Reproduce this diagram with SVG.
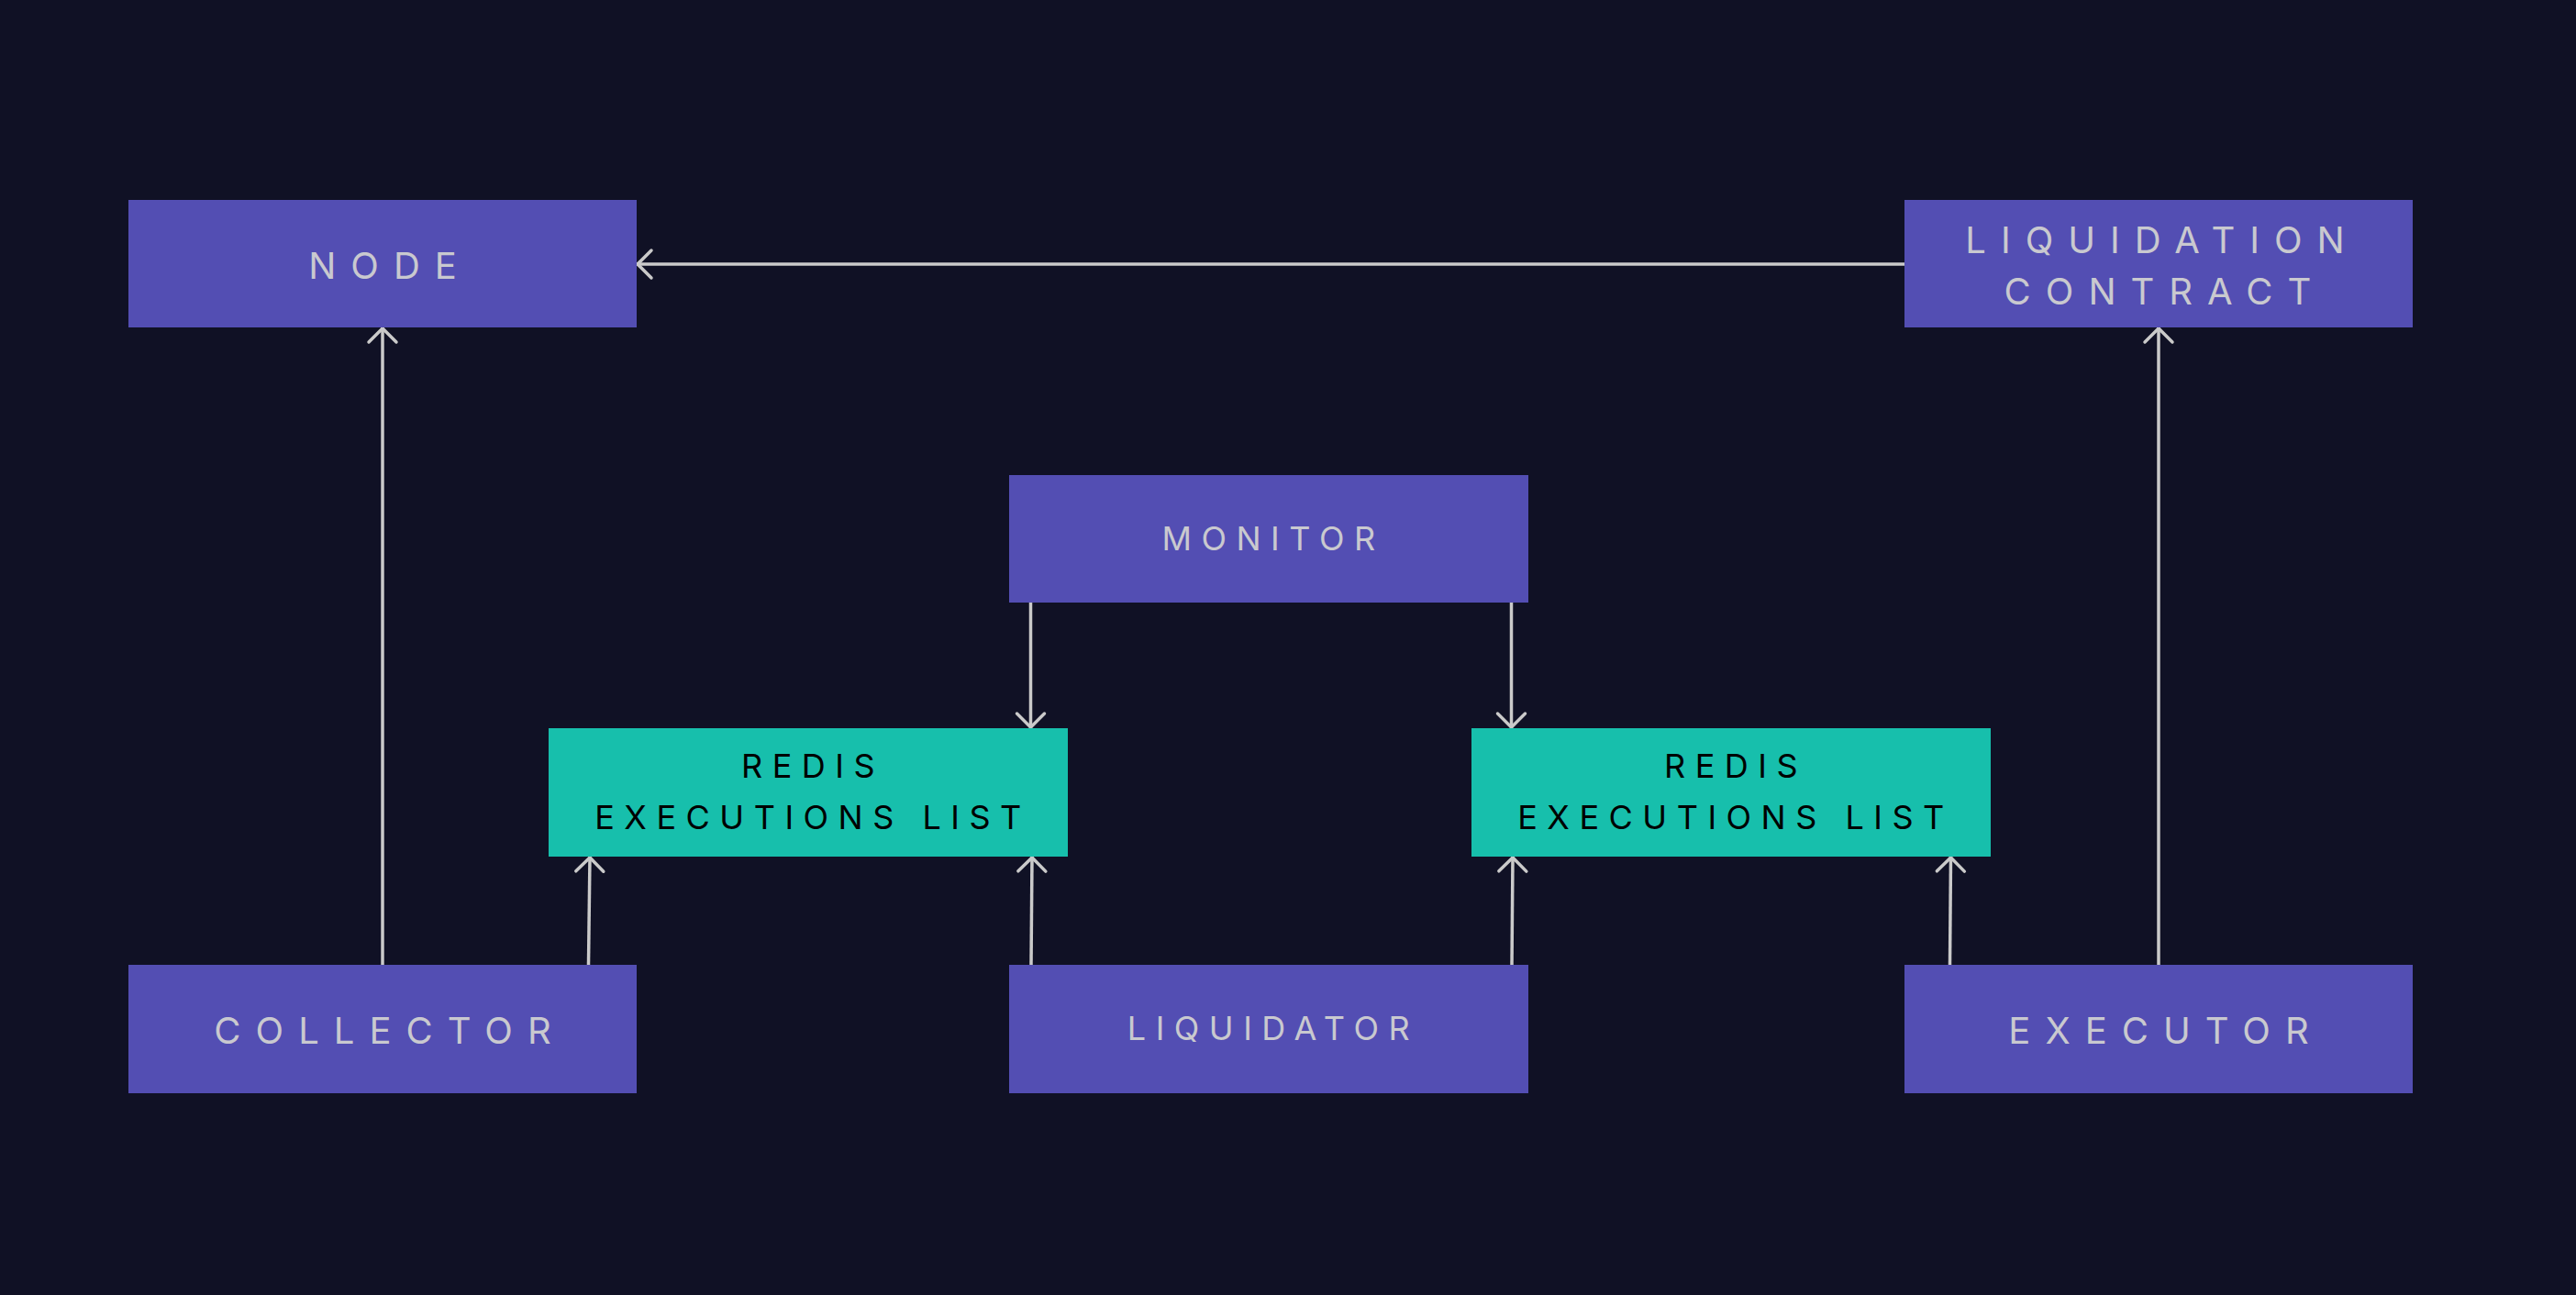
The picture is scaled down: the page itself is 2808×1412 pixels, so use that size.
<svg xmlns="http://www.w3.org/2000/svg" width="2808" height="1412" viewBox="0 0 2808 1412">
<style>
.n{fill:#534eb3}
.r{fill:#17bfac}
.t{font-family:Inter,"Liberation Sans",sans-serif;fill:#c9c9cf;text-anchor:middle}
.big{font-size:40px;letter-spacing:16px}
.sm{font-size:36px;letter-spacing:10.5px}
.k{fill:#000}
.c{fill:none;stroke:#cacaca;stroke-width:3.5}
</style>
<defs>
<marker id="arr" viewBox="-20 -20 24 40" markerWidth="24" markerHeight="40" refX="1" refY="0" orient="auto" markerUnits="userSpaceOnUse">
<path d="M-15,-15 L0,0 L-15,15" fill="none" stroke="#cacaca" stroke-width="3.5" stroke-linecap="round" stroke-linejoin="round"/>
</marker>
</defs>
<rect width="2808" height="1412" fill="#101125"/>
<g id="connectors">
<line class="c" x1="2076" y1="288" x2="694" y2="288" marker-end="url(#arr)"/>
<line class="c" x1="417" y1="1052" x2="417" y2="357" marker-end="url(#arr)"/>
<line class="c" x1="2353" y1="1052" x2="2353" y2="357" marker-end="url(#arr)"/>
<line class="c" x1="1123.5" y1="657" x2="1123.5" y2="794" marker-end="url(#arr)"/>
<line class="c" x1="1647.5" y1="657" x2="1647.5" y2="794" marker-end="url(#arr)"/>
<line class="c" x1="641.5" y1="1052" x2="643" y2="934" marker-end="url(#arr)"/>
<line class="c" x1="1124" y1="1052" x2="1125" y2="934" marker-end="url(#arr)"/>
<line class="c" x1="1648" y1="1052" x2="1649" y2="934" marker-end="url(#arr)"/>
<line class="c" x1="2125.5" y1="1052" x2="2126.5" y2="934" marker-end="url(#arr)"/>
</g>
<g id="node">
<rect class="n" x="140" y="218" width="554" height="139"/>
<text class="t big" x="425" y="304">NODE</text>
</g>
<g id="liquidation-contract">
<rect class="n" x="2076" y="218" width="554" height="139"/>
<text class="t big" x="2357" y="276">LIQUIDATION</text>
<text class="t big" x="2360" y="332">CONTRACT</text>
</g>
<g id="monitor">
<rect class="n" x="1100" y="518" width="566" height="139"/>
<text class="t sm" x="1388" y="600">MONITOR</text>
</g>
<g id="redis-left">
<rect class="r" x="598" y="794" width="566" height="140"/>
<text class="t sm k" x="886" y="848">REDIS</text>
<text class="t sm k" x="886" y="904">EXECUTIONS LIST</text>
</g>
<g id="redis-right">
<rect class="r" x="1604" y="794" width="566" height="140"/>
<text class="t sm k" x="1892" y="848">REDIS</text>
<text class="t sm k" x="1892" y="904">EXECUTIONS LIST</text>
</g>
<g id="collector">
<rect class="n" x="140" y="1052" width="554" height="140"/>
<text class="t big" x="425" y="1138">COLLECTOR</text>
</g>
<g id="liquidator">
<rect class="n" x="1100" y="1052" width="566" height="140"/>
<text class="t sm" x="1388" y="1134">LIQUIDATOR</text>
</g>
<g id="executor">
<rect class="n" x="2076" y="1052" width="554" height="140"/>
<text class="t big" x="2361" y="1138">EXECUTOR</text>
</g>
</svg>
